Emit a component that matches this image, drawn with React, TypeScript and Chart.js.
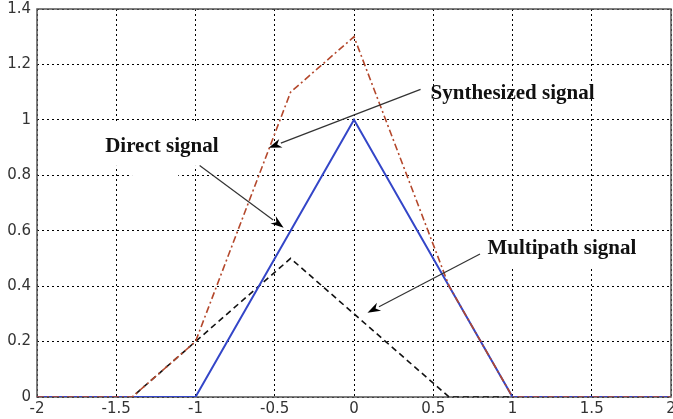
import React, { useEffect, useRef } from "react";
import { Chart, registerables } from "chart.js";

Chart.register(...registerables);

// ---- data ----
const xValues = [-2, -1.4, -1, -0.4, 0, 0.6, 1, 2];
const directSignal = [0, 0, 0, 0.6, 1, 0.4, 0, 0];
const multipathSignal = [0, 0, 0.2, 0.5, 0.3, 0, 0, 0];
const synthesizedSignal = [0, 0, 0.2, 1.1, 1.3, 0.4, 0, 0];

const xTicks = [-2, -1.5, -1, -0.5, 0, 0.5, 1, 1.5, 2];
const yTicks = [0, 0.2, 0.4, 0.6, 0.8, 1, 1.2, 1.4];

const labelTexts = ["Synthesized signal", "Direct signal", "Multipath signal"];
// anchors in data coordinates: text baseline-left, arrow start, arrow tip
const labelAnchors = [
  { tx: 0.483, ty: 1.075, ax: 0.42, ay: 1.11, bx: -0.538, by: 0.899 },
  { tx: -1.57, ty: 0.884, ax: -0.974, ay: 0.835, bx: -0.444, by: 0.611 },
  { tx: 0.842, ty: 0.515, ax: 0.795, ay: 0.516, bx: 0.085, by: 0.304 },
];
// white text-box backgrounds (data coords x1,y1,x2,y2)
const whiteBoxes = [
  [-1.602, 0.989, -0.793, 0.834],
  [-1.4, 0.826, -1.109, 0.783],
  [0.8, 0.588, 1.874, 0.469],
];

const toPts = (ys: number[]) => xValues.map((x, i) => ({ x, y: ys[i] }));

const annotationPlugin = {
  id: "annotations",
  beforeDatasetsDraw(chart: any) {
    const { ctx, scales, chartArea } = chart;
    const xs = scales.x;
    const ys = scales.y;
    ctx.save();
    ctx.fillStyle = "#ffffff";
    whiteBoxes.forEach(([x1, y1, x2, y2]) => {
      const px1 = xs.getPixelForValue(x1);
      const px2 = xs.getPixelForValue(x2);
      const py1 = ys.getPixelForValue(y1);
      const py2 = ys.getPixelForValue(y2);
      ctx.fillRect(px1, py1, px2 - px1, py2 - py1);
    });
    // frame
    ctx.strokeStyle = "#555";
    ctx.lineWidth = 1.5;
    ctx.strokeRect(chartArea.left, chartArea.top, chartArea.right - chartArea.left, chartArea.bottom - chartArea.top);
    ctx.restore();
  },
  afterDatasetsDraw(chart: any) {
    const { ctx, scales } = chart;
    const xs = scales.x;
    const ys = scales.y;
    ctx.save();
    labelAnchors.forEach((a, i) => {
      const x1 = xs.getPixelForValue(a.ax);
      const y1 = ys.getPixelForValue(a.ay);
      const x2 = xs.getPixelForValue(a.bx);
      const y2 = ys.getPixelForValue(a.by);
      const ang = Math.atan2(y2 - y1, x2 - x1);
      const len = 13;
      const hw = 4.5;
      const bx = x2 - len * Math.cos(ang);
      const by = y2 - len * Math.sin(ang);
      ctx.strokeStyle = "#333";
      ctx.lineWidth = 1.2;
      ctx.setLineDash([]);
      ctx.beginPath();
      ctx.moveTo(x1, y1);
      ctx.lineTo(bx, by);
      ctx.stroke();
      ctx.fillStyle = "#000";
      ctx.beginPath();
      ctx.moveTo(x2, y2);
      ctx.lineTo(bx - hw * Math.sin(ang), by + hw * Math.cos(ang));
      ctx.lineTo(x2 - 0.7 * len * Math.cos(ang), y2 - 0.7 * len * Math.sin(ang));
      ctx.lineTo(bx + hw * Math.sin(ang), by - hw * Math.cos(ang));
      ctx.closePath();
      ctx.fill();

      ctx.fillStyle = "#111";
      ctx.font = "bold 21px 'Liberation Serif', 'Times New Roman', serif";
      ctx.textAlign = "left";
      ctx.textBaseline = "alphabetic";
      ctx.fillText(labelTexts[i], xs.getPixelForValue(a.tx), ys.getPixelForValue(a.ty));
    });
    ctx.restore();
  },
};

export default function App() {
  const ref = useRef<HTMLCanvasElement | null>(null);
  useEffect(() => {
    document.body.style.margin = "0";
    const canvas = ref.current!;
    const tickFont = { family: "'DejaVu Sans', Verdana, sans-serif", size: 15 };
    const chart = new Chart(canvas, {
      type: "line",
      data: {
        datasets: [
          {
            label: "Synthesized signal",
            data: toPts(synthesizedSignal),
            borderColor: "#b4482c",
            borderWidth: 1.6,
            borderDash: [7, 3, 2, 3],
            pointRadius: 0,
            fill: false,
            tension: 0,
          },
          {
            label: "Direct signal",
            data: toPts(directSignal),
            borderColor: "#3446c8",
            borderWidth: 2,
            pointRadius: 0,
            fill: false,
            tension: 0,
          },
          {
            label: "Multipath signal",
            data: toPts(multipathSignal),
            borderColor: "#111",
            borderWidth: 1.6,
            borderDash: [6, 4],
            pointRadius: 0,
            fill: false,
            tension: 0,
          },
        ],
      },
      options: {
        responsive: false,
        animation: false,
        devicePixelRatio: 1,
        layout: { padding: { top: 9, right: 2, left: 0, bottom: 0 } },
        plugins: { legend: { display: false }, tooltip: { enabled: false } },
        scales: {
          x: {
            type: "linear",
            min: -2,
            max: 2,
            afterBuildTicks: (s: any) => {
              s.ticks = xTicks.map((v) => ({ value: v }));
            },
            afterFit: (s: any) => {
              s.height = 22;
              s.paddingLeft = 0;
              s.paddingRight = 0;
            },
            grid: { color: "#000", lineWidth: 1, drawTicks: false },
            border: { display: false, dash: [2, 3] },
            ticks: {
              font: tickFont,
              color: "#333",
              padding: 3,
              maxRotation: 0,
              autoSkip: false,
              callback: (v: any) => String(v),
            },
          },
          y: {
            type: "linear",
            min: 0,
            max: 1.4,
            afterBuildTicks: (s: any) => {
              s.ticks = yTicks.map((v) => ({ value: v }));
            },
            afterFit: (s: any) => {
              s.width = 37;
              s.paddingTop = 0;
              s.paddingBottom = 0;
            },
            grid: { color: "#000", lineWidth: 1, drawTicks: false },
            border: { display: false, dash: [2, 3] },
            ticks: {
              font: tickFont,
              color: "#333",
              padding: 6,
              autoSkip: false,
              callback: (v: any) => String(Math.round(v * 10) / 10),
            },
          },
        },
      },
      plugins: [annotationPlugin],
    } as any);
    return () => chart.destroy();
  }, []);
  return (
    <div style={{ width: 673, height: 419 }}>
      <canvas ref={ref} width={673} height={419} style={{ display: "block" }} />
    </div>
  );
}
